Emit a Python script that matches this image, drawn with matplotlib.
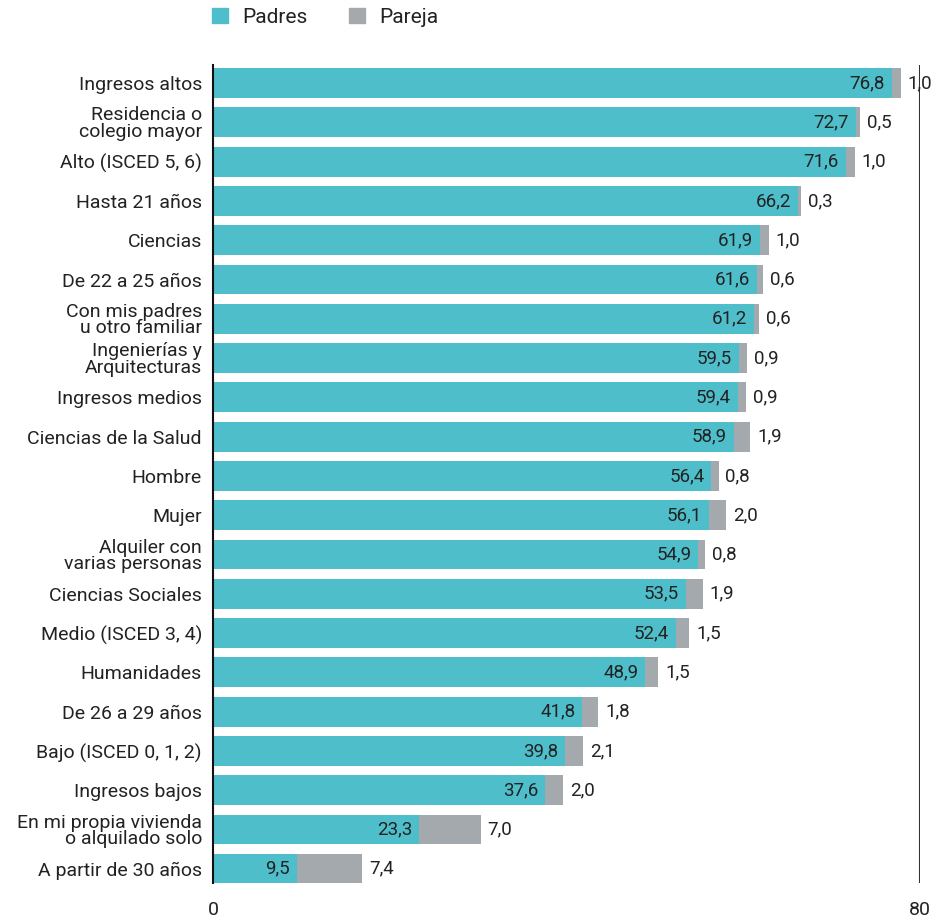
import numpy as np
import matplotlib.pyplot as plt
from matplotlib.patches import Patch

plt.rcParams['font.family'] = ['Roboto', 'DejaVu Sans']

# ===== Data =====
categorias = ['Ingresos altos', 'Residencia o\ncolegio mayor', 'Alto (ISCED 5, 6)',
              'Hasta 21 años', 'Ciencias', 'De 22 a 25 años',
              'Con mis padres\nu otro familiar', 'Ingenierías y\nArquitecturas',
              'Ingresos medios', 'Ciencias de la Salud', 'Hombre', 'Mujer',
              'Alquiler con\nvarias personas', 'Ciencias Sociales', 'Medio (ISCED 3, 4)',
              'Humanidades', 'De 26 a 29 años', 'Bajo (ISCED 0, 1, 2)', 'Ingresos bajos',
              'En mi propia vivienda\no alquilado solo', 'A partir de 30 años']
padres = [76.8, 72.7, 71.6, 66.2, 61.9, 61.6, 61.2, 59.5, 59.4, 58.9, 56.4,
          56.1, 54.9, 53.5, 52.4, 48.9, 41.8, 39.8, 37.6, 23.3, 9.5]
pareja = [1.0, 0.5, 1.0, 0.3, 1.0, 0.6, 0.6, 0.9, 0.9, 1.9, 0.8,
          2.0, 0.8, 1.9, 1.5, 1.5, 1.8, 2.1, 2.0, 7.0, 7.4]

c_padres = '#4fbecb'
c_pareja = '#a4a9ae'
c_text = '#222222'

def fmt(v):
    return f'{v:.1f}'.replace('.', ',')

# ===== Plot =====
fig = plt.figure(figsize=(9.35, 9.21), dpi=100)
ax = fig.add_axes([0.2278, 0.0413, 0.984 - 0.2278, 0.9294 - 0.0413])

y = np.arange(len(categorias))
padres = np.array(padres)
pareja = np.array(pareja)

ax.barh(y, padres, height=0.76, color=c_padres)
ax.barh(y, pareja, left=padres, height=0.76, color=c_pareja)

for yi, p, q in zip(y, padres, pareja):
    ax.annotate(fmt(p), (p, yi), xytext=(-5, 0), textcoords='offset points',
                ha='right', va='center', fontsize=13.5, color=c_text)
    ax.annotate(fmt(q), (p + q, yi), xytext=(5, 0), textcoords='offset points',
                ha='left', va='center', fontsize=13.5, color=c_text)

ax.set_xlim(0, 80)
ax.set_ylim(len(categorias) - 0.64, -0.46)
ax.axvline(80, color='#333333', lw=1.5)

ax.set_yticks(y)
ax.set_yticklabels(categorias, fontsize=14, color=c_text, linespacing=0.9)
ax.set_xticks([0, 80])
ax.set_xticklabels(['0', '80'], fontsize=14, color=c_text)
ax.tick_params(axis='both', length=0)
ax.tick_params(axis='x', pad=13)
ax.tick_params(axis='y', pad=8)

for s in ['top', 'right', 'bottom']:
    ax.spines[s].set_visible(False)
ax.spines['left'].set_color('#111111')
ax.spines['left'].set_linewidth(1.5)

handles = [Patch(color=c_padres, label='Padres'), Patch(color=c_pareja, label='Pareja')]
fig.legend(handles=handles, loc='upper left', bbox_to_anchor=(0.207, 1.012), ncol=2,
           frameon=False, fontsize=15, handlelength=0.75, handleheight=0.75,
           handletextpad=0.7, columnspacing=2.0, labelcolor=c_text)

plt.savefig('out.png', dpi=100)
